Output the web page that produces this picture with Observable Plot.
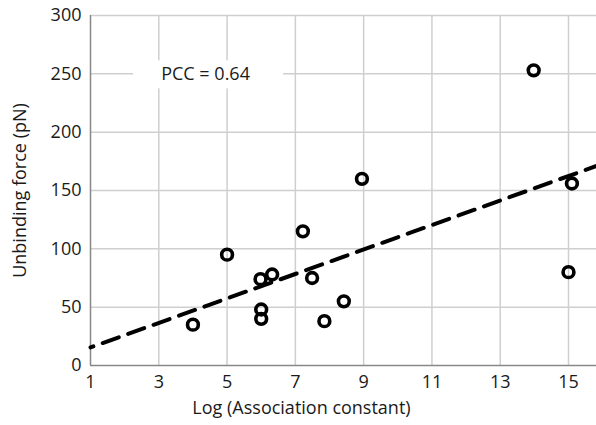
<!DOCTYPE html>
<html>
<head>
<meta charset="utf-8">
<script src="https://cdn.jsdelivr.net/npm/d3@7"></script>
<script src="https://cdn.jsdelivr.net/npm/@observablehq/plot@0.6"></script>
<style>
  html, body { margin: 0; padding: 0; background: #fff; }
  #chart svg { display: block; }
</style>
</head>
<body>
<div id="chart"></div>
<script>
// Data
const logK  = [4.0, 5.0, 5.98, 6.32, 6.0, 6.0, 7.22, 7.49, 7.85, 8.42, 8.95, 13.98, 15.1, 15.0];
const force = [35, 95, 74, 78, 48, 40, 115, 75, 38, 55, 160, 253, 156, 80];
const fitX = [1, 15.82];
const fitY = [15.5, 171];
const xTicks = [1, 3, 5, 7, 9, 11, 13, 15];
const yTicks = [0, 50, 100, 150, 200, 250, 300];
const annotationX = [4.37];
const annotationY = [250];
const annotationText = ["PCC = 0.64"];
const xLabel = "Log (Association constant)";
const yLabel = "Unbinding force (pN)";

const points = logK.map((x, i) => ({x, y: force[i]}));
const fit = fitX.map((x, i) => ({x, y: fitY[i]}));
const notes = annotationX.map((x, i) => ({x, y: annotationY[i], text: annotationText[i]}));

const chart = Plot.plot({
  width: 596,
  height: 425,
  marginLeft: 90,
  marginRight: 0,
  marginTop: 15,
  marginBottom: 60,
  style: {fontFamily: "'Open Sans', sans-serif", fontSize: "17px", color: "#1a1a1a", background: "#fff"},
  x: {domain: [1, 15.82]},
  y: {domain: [0, 300]},
  marks: [
    Plot.gridX(xTicks.filter(t => t > 1), {stroke: "#cfcfcf", strokeOpacity: 1, strokeWidth: 1.5}),
    Plot.gridY(yTicks.filter(t => t > 0), {stroke: "#cfcfcf", strokeOpacity: 1, strokeWidth: 1.5}),
    Plot.rect(notes, {x1: "x", x2: "x", y1: "y", y2: "y", fill: "#fff",
      insetLeft: -72, insetRight: -78, insetTop: -13, insetBottom: -15}),
    Plot.text(notes, {x: "x", y: "y", text: "text", fontSize: 18, fill: "#1a1a1a"}),
    Plot.ruleX([1], {stroke: "#888", strokeWidth: 1.5}),
    Plot.ruleY([0], {stroke: "#888", strokeWidth: 1.5}),
    Plot.axisX({ticks: xTicks, tickSize: 0, tickPadding: 10, fontSize: 18, label: null, tickFormat: d3.format("d")}),
    Plot.axisY({ticks: yTicks, tickSize: 0, tickPadding: 9, fontSize: 18, label: null}),
    Plot.text([yLabel], {frameAnchor: "left", textAnchor: "middle", rotate: -90, dx: -70, fontSize: 18, fill: "#1a1a1a"}),
    Plot.text([xLabel], {frameAnchor: "bottom", dy: 48, dx: -42, fontSize: 18, fill: "#1a1a1a"}),
    Plot.line(fit, {x: "x", y: "y", stroke: "#000", strokeWidth: 4, strokeDasharray: "17,10", strokeDashoffset: 14}),
    Plot.dot(points, {x: "x", y: "y", r: 5.4, stroke: "#000", strokeWidth: 3.6, fill: "none"})
  ]
});
document.getElementById("chart").appendChild(chart);
</script>
</body>
</html>
